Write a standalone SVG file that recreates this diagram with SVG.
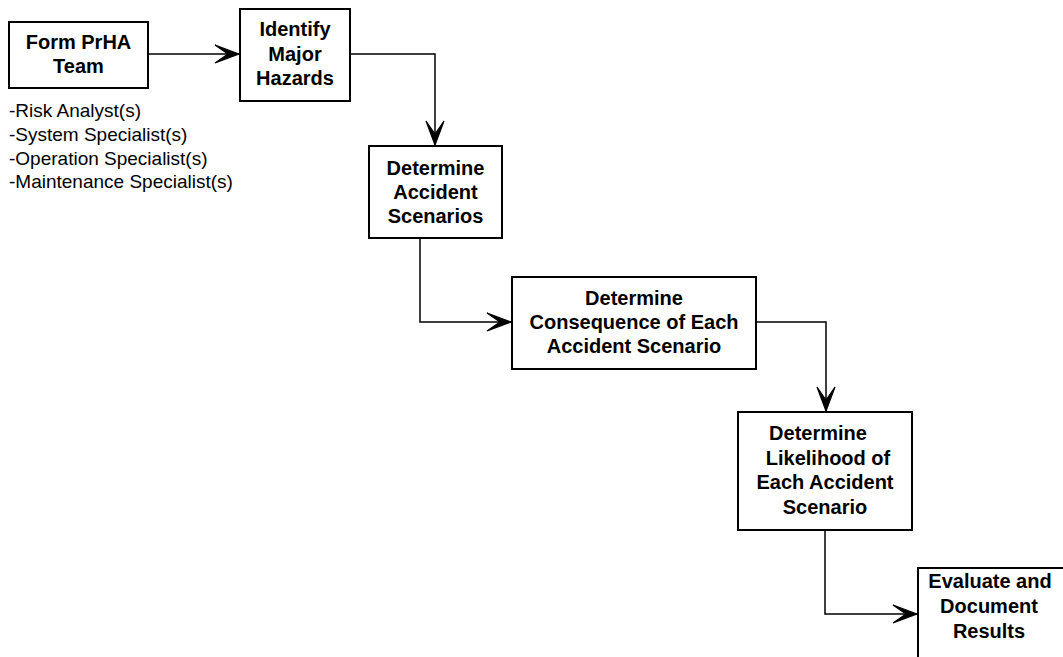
<svg xmlns="http://www.w3.org/2000/svg" width="1063" height="657" viewBox="0 0 1063 657">
<style>
.box{fill:#fff;stroke:#000;stroke-width:2}
.t{font-family:"Liberation Sans",Arial,sans-serif;font-size:20px;font-weight:bold;fill:#000;text-anchor:middle}
.l{font-family:"Liberation Sans",Arial,sans-serif;font-size:19px;fill:#000}
.c{fill:none;stroke:#000;stroke-width:1.5}
</style>
<defs>
<marker id="ah" markerUnits="userSpaceOnUse" markerWidth="30" markerHeight="24" viewBox="-26 -12 30 24" refX="0" refY="0" orient="auto">
<polygon points="0,0 -24,-9 -11,0 -24,9" fill="#000" stroke="#000" stroke-width="1.2" stroke-linejoin="miter"/>
</marker>
</defs>
<rect x="0" y="0" width="1063" height="657" fill="#fff"/>
<g id="connectors">
<path class="c" d="M148,54 H239" marker-end="url(#ah)"/>
<path class="c" d="M350,54 H435 V145" marker-end="url(#ah)"/>
<path class="c" d="M420,238 V322 H511" marker-end="url(#ah)"/>
<path class="c" d="M756,322 H826 V411" marker-end="url(#ah)"/>
<path class="c" d="M825,530 V614 H917" marker-end="url(#ah)"/>
</g>
<g id="n1">
<rect class="box" x="9" y="22" width="139" height="66"/>
<text class="t" x="78.5" y="49">Form PrHA</text>
<text class="t" x="78.5" y="73">Team</text>
</g>
<g id="team-list">
<text class="l" x="9" y="117">-Risk Analyst(s)</text>
<text class="l" x="9" y="141">-System Specialist(s)</text>
<text class="l" x="9" y="165">-Operation Specialist(s)</text>
<text class="l" x="9" y="188">-Maintenance Specialist(s)</text>
</g>
<g id="n2">
<rect class="box" x="240" y="9" width="110" height="92"/>
<text class="t" x="295" y="36">Identify</text>
<text class="t" x="295" y="61">Major</text>
<text class="t" x="295" y="85">Hazards</text>
</g>
<g id="n3">
<rect class="box" x="369" y="146" width="133" height="92"/>
<text class="t" x="435.5" y="175">Determine</text>
<text class="t" x="435.5" y="199">Accident</text>
<text class="t" x="435.5" y="223">Scenarios</text>
</g>
<g id="n4">
<rect class="box" x="512" y="277" width="244" height="92"/>
<text class="t" x="634" y="305">Determine</text>
<text class="t" x="634" y="329">Consequence of Each</text>
<text class="t" x="634" y="353">Accident Scenario</text>
</g>
<g id="n5">
<rect class="box" x="738" y="412" width="174" height="118"/>
<text class="t" x="818" y="440">Determine</text>
<text class="t" x="828" y="465">Likelihood of</text>
<text class="t" x="825" y="489">Each Accident</text>
<text class="t" x="825" y="514">Scenario</text>
</g>
<g id="n6">
<rect class="box" x="918" y="568" width="160" height="100"/>
<text class="t" x="990" y="588">Evaluate and</text>
<text class="t" x="989" y="613">Document</text>
<text class="t" x="989" y="638">Results</text>
</g>
</svg>
